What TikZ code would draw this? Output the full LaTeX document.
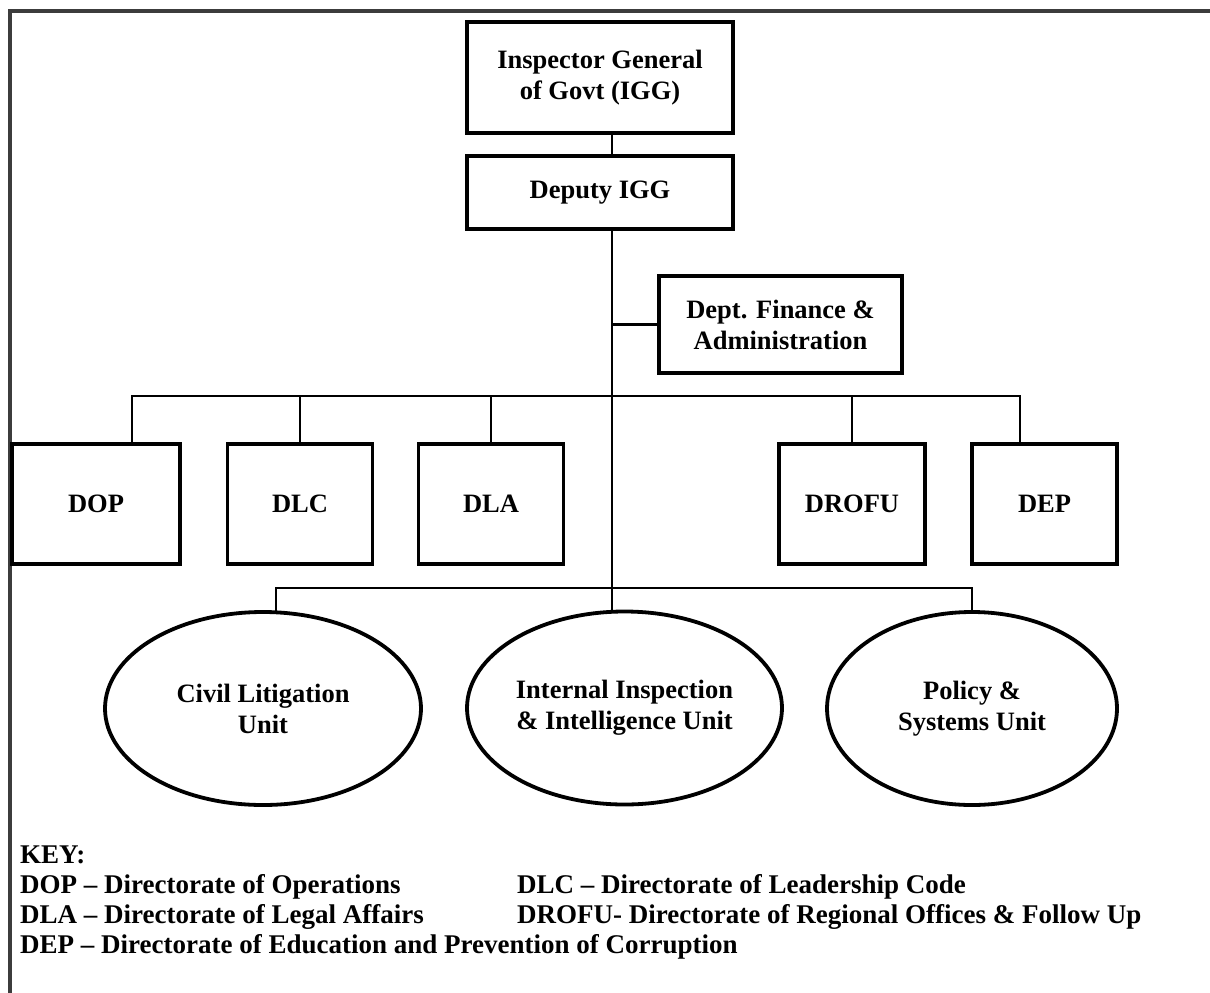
\documentclass[tikz,border=0pt]{standalone}
\usepackage{fontspec}
\setmainfont{Liberation Serif}
\definecolor{FrameGray}{RGB}{60, 60, 60}
\usetikzlibrary{positioning, shapes.geometric}

\begin{document}
\begin{tikzpicture}[
    x=1pt, y=-1pt,
    every node/.style={font=\bfseries\fontsize{26.5}{31}\selectfont, align=center},
    unitbox/.style={draw, line width=3.6pt, inner sep=0pt, outer sep=0pt},
    dirbox/.style={unitbox, minimum width=145pt, minimum height=120pt},
    unitoval/.style={ellipse, draw, line width=3.8pt, inner sep=0pt, outer sep=0pt,
                     minimum height=193pt},
    link/.style={line width=2.7pt},
    keytext/.style={font=\bfseries\fontsize{27}{31}\selectfont, anchor=west, inner sep=0pt}
]
\useasboundingbox (0,0) rectangle (1210,993);
\draw[FrameGray, line width=3.2pt] (10,993) -- (10,11) -- (1210,11);

% top of the chart
\node[unitbox, minimum width=266pt, minimum height=111pt] (igg) at (600,77.5)
    {Inspector General\\of Govt (IGG)};
\node[unitbox, minimum width=266pt, minimum height=73pt, below=23pt of igg] (deputy) {Deputy IGG};
\node[unitbox, minimum width=243pt, minimum height=97pt] (finance) at (780.5,324.5)
    {Dept. Finance \&\\Administration};
\coordinate (trunk) at (612,0);
\coordinate (upbus) at (612,396);
\coordinate (lowbus) at (612,588);

% directorates
\node[dirbox, minimum width=168pt] (dop) at (96,504) {DOP};
\node[dirbox] (dlc) at (300,504) {DLC};
\node[dirbox] (dla) at (491,504) {DLA};
\node[dirbox, minimum width=146pt] (drofu) at (852,504) {DROFU};
\node[dirbox] (dep) at (1044.5,504) {DEP};

% units
\node[unitoval, minimum width=316pt] (civil) at (263,708.5) {Civil Litigation\\Unit};
\node[unitoval, minimum width=315pt] (internal) at (624.5,708)
    {Internal Inspection\\\& Intelligence Unit};
\node[unitoval, minimum width=290pt] (policy) at (972,708.5) {Policy \&\\Systems Unit};

% connectors
\draw[link] (igg.south -| trunk) -- (deputy.north -| trunk);
\draw[link] (deputy.south -| trunk) -- (internal.north -| trunk);
\draw[link] (finance.west) -- (finance.west -| trunk);
\draw[link] ([xshift=36pt]dop.north) |- (upbus) -| ([xshift=-24.5pt]dep.north);
\draw[link] (dlc.north) -- (dlc.north |- upbus);
\draw[link] (dla.north) -- (dla.north |- upbus);
\draw[link] (drofu.north) -- (drofu.north |- upbus);
\draw[link] ([xshift=13pt]civil.north) |- (lowbus) -| (policy.north);

% key
\node[keytext] (key) at (20,855) {KEY:};
\node[keytext] (kdop) at (20,887) {DOP – Directorate of Operations};
\node[keytext] (kdlc) at (517,887) {DLC – Directorate of Leadership Code};
\node[keytext] (kdla) at (20,917) {DLA – Directorate of Legal Affairs};
\node[keytext] (kdrofu) at (517,917) {DROFU- Directorate of Regional Offices \& Follow Up};
\node[keytext] (kdep) at (20,947) {DEP – Directorate of Education and Prevention of Corruption};
\end{tikzpicture}
\end{document}
